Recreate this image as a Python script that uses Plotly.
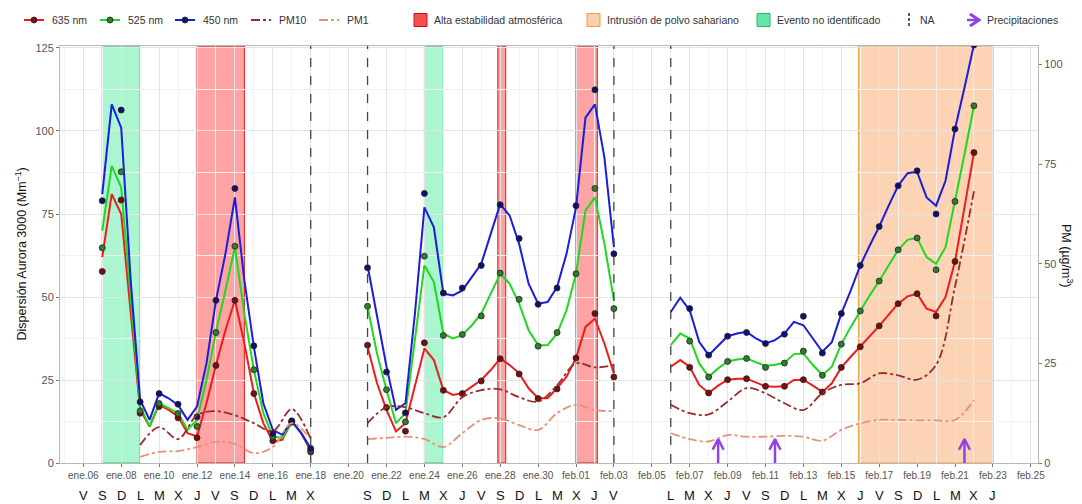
import pandas as pd
import plotly.graph_objects as go

# ---------------- data ----------------
base_day = pd.Timestamp("2023-01-06")

# time windows of the three measurement periods
line_windows = [("2023-01-07", "2023-01-18"), ("2023-01-21", "2023-02-03"), ("2023-02-06", "2023-02-22")]
dot_windows = [("2023-01-07", "2023-01-18"), ("2023-01-21", "2023-02-03"), ("2023-02-07", "2023-02-22")]
pm_windows = [("2023-01-09", "2023-01-18"), ("2023-01-21", "2023-02-03"), ("2023-02-06", "2023-02-22")]

# 12-hourly scattering (Mm-1)
red_line = [
    [62, 81, 75, 45, 16, 11, 17.5, 16, 14, 9, 8, 18, 29.5, 40, 49, 36, 21, 12, 6.5, 7, 12.5, 9, 3.5],
    [35, 24, 16, 9.5, 12, 23, 34.5, 31, 22, 20.5, 21, 23, 25, 28, 31.5, 29.5, 27, 22.5, 19.5, 19.5, 22.5, 26, 31.6, 41, 43.5, 36, 27],
    [29, 31, 29, 23.5, 21.1, 23.3, 25.1, 25.4, 25.4, 24.2, 23.1, 23, 23.1, 25, 25.1, 23.3, 21.4, 24, 28.8, 32, 35, 38.2, 41.3, 44.7, 48, 50.2, 51, 46.5, 45.5, 50, 60.7, 77, 93.5],
]
green_line = [
    [70, 89.5, 83, 50, 17, 11, 18, 16.5, 15, 10, 13, 25, 39.5, 52, 65, 45, 28, 15, 8, 7.5, 12.5, 9, 4],
    [47, 33, 22, 12, 15, 37, 59.5, 54.5, 39, 37.5, 38.5, 41.5, 45, 51, 57, 54, 48, 40, 35.5, 35.5, 39, 46, 57, 76, 80, 66, 49],
    [35.5, 39, 37.5, 30, 26, 28.5, 30.6, 31.2, 31.5, 30.3, 29.2, 29.6, 30.2, 32.8, 33, 29.5, 26.5, 29, 35.8, 41, 45.8, 50.5, 54.8, 59.5, 64.2, 67.2, 67.8, 62, 60, 65, 78.8, 93, 107.6],
]
blue_line = [
    [81, 108, 101, 55, 19, 13, 21, 19.5, 17.5, 13, 17, 30, 49, 63, 80, 55, 35, 18, 10, 8.5, 12.7, 9, 4.4],
    [59.5, 44, 29, 16, 18, 45, 77, 71, 51, 50.5, 52, 56, 60, 69, 78, 74.5, 66, 54, 48, 48.5, 53, 63, 77, 104, 108, 92, 65],
    [45.5, 49.8, 46, 36.5, 32.5, 35.5, 38.2, 39, 39.5, 37.5, 36, 37, 39, 42.5, 41.5, 37.5, 33.5, 36.4, 45, 52, 59.5, 65.5, 71.2, 77.5, 83.5, 87.3, 87.7, 80, 77.5, 85, 100.6, 113, 126],
]

# daily means (points)
red_daily = [
    [57.7, 79.2, 15, 17, 13.6, 7.6, 29.4, 49, 20.9, 6.7, 12.3, 3.3],
    [35.5, 16.7, 9.6, 36.2, 21.9, 20.9, 24.7, 31.4, 26.8, 19.4, 22.3, 31.6, 45, 25.9],
    [28.8, 21.1, 25.1, 25.4, 23.1, 23.1, 25.1, 21.4, 28.8, 35, 41.3, 48, 51, 44.3, 60.7, 93.5],
]
green_daily = [
    [64.8, 87.7, 15.7, 17.9, 14.9, 11, 39.3, 65.3, 28.1, 7.9, 12.5, 3.8],
    [47.2, 22.1, 12.4, 62.3, 38.4, 38.7, 44.3, 57.2, 49.3, 35.2, 39.3, 57, 82.7, 46.5],
    [36.7, 25.9, 30.6, 31.5, 28.8, 30.1, 33.7, 26.4, 35.8, 45.8, 54.8, 64.2, 67.8, 58.2, 78.8, 107.6],
]
blue_daily = [
    [79, 106.3, 18.4, 20.9, 17.7, 13.9, 49, 82.7, 35.3, 8.9, 12.7, 4.4],
    [58.8, 27.4, 15.1, 81.2, 51.2, 52.7, 59.5, 77.8, 67.6, 47.8, 52.7, 77.5, 112.4, 63],
    [46.5, 32.5, 38.2, 39.3, 36, 38.8, 44.2, 33.1, 45, 59.5, 71.2, 83.5, 88, 75, 100.6, 125.9],
]

# daily PM (ug/m3)
pm10_daily = [
    [4.5, 9, 6, 12, 13, 12, 10, 8, 13.5, 6],
    [10, 14, 14, 12.5, 11.5, 16.5, 18.3, 18.5, 16.5, 15.4, 19.5, 25, 24, 24.6],
    [14.6, 12.5, 12.2, 15.4, 18.8, 17.5, 15, 13.3, 17.5, 19.6, 20, 22.5, 22, 20.9, 24.6, 44.3, 68.2],
]
pm1_daily = [
    [1.5, 2.8, 3, 4, 5.3, 4.8, 2.5, 4, 10, 6],
    [6, 6.3, 6.6, 6, 4, 7.5, 10.8, 11.2, 9.5, 8.3, 12.5, 14.6, 13.3, 13],
    [7.5, 6, 5.4, 7, 6.6, 6.6, 6.8, 6.6, 5.6, 8.3, 10, 10.8, 10.8, 10.7, 10.7, 10.8, 15.8],
]

# events
alta_estabilidad = [("2023-01-12 00:00", "2023-01-14 12:00"),
                    ("2023-01-27 21:00", "2023-01-28 07:00"),
                    ("2023-02-01 00:00", "2023-02-02 03:00")]
polvo_sahariano = [("2023-02-15 22:00", "2023-02-23 00:00")]
evento_no_id = [("2023-01-07", "2023-01-09"), ("2023-01-24", "2023-01-25")]
na_dates = ["2023-01-18", "2023-01-21", "2023-02-03", "2023-02-06"]
precip_dates = ["2023-02-08 12:00", "2023-02-11 12:00", "2023-02-21 12:00"]

# axis / legend labels
x_tick_labels = ["ene.06", "ene.08", "ene.10", "ene.12", "ene.14", "ene.16", "ene.18", "ene.20",
                 "ene.22", "ene.24", "ene.26", "ene.28", "ene.30", "feb.01", "feb.03", "feb.05",
                 "feb.07", "feb.09", "feb.11", "feb.13", "feb.15", "feb.17", "feb.19", "feb.21",
                 "feb.23", "feb.25"]
weekday_groups = [
    ("2023-01-06", ["V", "S", "D", "L", "M", "X", "J", "V", "S", "D", "L", "M", "X"]),
    ("2023-01-21", ["S", "D", "L", "M", "X", "J", "V", "S", "D", "L", "M", "X", "J", "V"]),
    ("2023-02-06", ["L", "M", "X", "J", "V", "S", "D", "L", "M", "X", "J", "V", "S", "D", "L", "M", "X", "J"]),
]
legend_labels = ["635 nm", "525 nm", "450 nm", "PM10", "PM1", "Alta estabilidad atmosférica",
                 "Intrusión de polvo sahariano", "Evento no identificado", "NA", "Precipitaciones"]

PM_FACTOR = 1.2  # secondary axis: PM = scattering / 1.2

# ---------------- style ----------------
W, H = 1082, 504
ML, MR, MT, MB = 60, 44, 46, 41
PW, PH = W - ML - MR, H - MT - MB
FONT = "Liberation Sans, Arial, Helvetica, sans-serif"
C_RED, C_GREEN, C_BLUE = "#F01C1C", "#1FD81F", "#1C1CDC"
D_RED, D_GREEN, D_BLUE = "#7A0E0E", "#2F7D2F", "#101070"
C_PM10, C_PM1 = "#9A2B2B", "#E8907A"
C_ARROW = "#9440E8"


def join(windows, parts, freq):
    xs, ys = [], []
    for (a, b), vals in zip(windows, parts):
        t = pd.date_range(a, b, freq=freq)
        xs += list(t)
        ys += list(vals)
        xs.append(None)
        ys.append(None)
    return xs, ys


def px(x):  # pixel -> paper x
    return (x - ML) / PW


def py(y):  # pixel -> paper y
    return (H - MB - y) / PH


fig = go.Figure()

# ---------- PM lines (right axis) ----------
for parts, col in [(pm1_daily, C_PM1), (pm10_daily, C_PM10)]:
    xs, ys = join(pm_windows, parts, "D")
    fig.add_trace(go.Scatter(x=xs, y=ys, yaxis="y2", mode="lines",
                             line=dict(color=col, width=1.8, dash="dashdot", shape="spline", smoothing=1.0),
                             hoverinfo="skip"))

# ---------- scattering lines ----------
for parts, col in [(red_line, C_RED), (green_line, C_GREEN), (blue_line, C_BLUE)]:
    xs, ys = join(line_windows, parts, "12h")
    fig.add_trace(go.Scatter(x=xs, y=ys, mode="lines", line=dict(color=col, width=2)))

for parts, col in [(red_daily, D_RED), (green_daily, D_GREEN), (blue_daily, D_BLUE)]:
    xs, ys = join(dot_windows, parts, "D")
    fig.add_trace(go.Scatter(x=xs, y=ys, mode="markers",
                             marker=dict(color=col, size=6, line=dict(color="#222", width=0.8))))

# ---------- precipitation arrows ----------
tip, wing_y, wing_dt = 7.2, 4.0, pd.Timedelta(hours=7)
for d in precip_dates:
    t = pd.Timestamp(d)
    fig.add_trace(go.Scatter(
        x=[t, t, None, t - wing_dt, t, t + wing_dt],
        y=[0, tip, None, wing_y, tip, wing_y],
        mode="lines", hoverinfo="skip",
        line=dict(color=C_ARROW, width=2.5)))

# ---------- shapes ----------
shapes = []
for a, b in evento_no_id:
    shapes.append(dict(type="rect", xref="x", yref="paper", x0=a, x1=b, y0=0, y1=1, layer="below",
                       fillcolor="rgba(0,225,115,0.33)", line=dict(color="#2FC070", width=1)))
for a, b in alta_estabilidad:
    shapes.append(dict(type="rect", xref="x", yref="paper", x0=a, x1=b, y0=0, y1=1, layer="below",
                       fillcolor="rgba(250,0,0,0.36)", line=dict(color="#E01818", width=1)))
for a, b in polvo_sahariano:
    shapes.append(dict(type="rect", xref="x", yref="paper", x0=a, x1=b, y0=0, y1=1, layer="below",
                       fillcolor="rgba(246,140,60,0.38)", line=dict(color="#F2A02A", width=1.2)))
for d in na_dates:
    shapes.append(dict(type="line", xref="x", yref="paper", x0=d, x1=d, y0=0, y1=1, layer="above",
                       line=dict(color="#444", width=1.3, dash="dash")))

# ---------- manual legend (top row) ----------
ann = []
LY = 20  # legend row centre (px)
text_x = [50, 126, 201, 277, 345, 432, 605, 775, 918, 985]


def leg_text(i):
    ann.append(dict(x=px(text_x[i]), y=py(LY), xref="paper", yref="paper", text=legend_labels[i],
                    showarrow=False, xanchor="left", yanchor="middle",
                    font=dict(family=FONT, size=10.5, color="#333")))


def leg_line(i, color, dash="solid", width=2, dot=None):
    x1 = text_x[i] - 6
    x0 = x1 - 20
    shapes.append(dict(type="line", xref="paper", yref="paper", x0=px(x0), x1=px(x1), y0=py(LY), y1=py(LY),
                       line=dict(color=color, width=width, dash=dash)))
    if dot:
        cx, r = (x0 + x1) / 2, 3
        shapes.append(dict(type="circle", xref="paper", yref="paper", x0=px(cx - r), x1=px(cx + r),
                           y0=py(LY + r), y1=py(LY - r), fillcolor=dot, line=dict(color="#222", width=0.8)))
    leg_text(i)


def leg_square(i, fill, border):
    x1 = text_x[i] - 5
    x0 = x1 - 13
    shapes.append(dict(type="rect", xref="paper", yref="paper", x0=px(x0), x1=px(x1),
                       y0=py(LY + 6.5), y1=py(LY - 6.5), fillcolor=fill, line=dict(color=border, width=1)))
    leg_text(i)


leg_line(0, C_RED, dot=D_RED)
leg_line(1, C_GREEN, dot=D_GREEN)
leg_line(2, C_BLUE, dot=D_BLUE)
leg_line(3, C_PM10, dash="dashdot")
leg_line(4, C_PM1, dash="dashdot")
leg_square(5, "#F55050", "#D01010")
leg_square(6, "#FBD0B0", "#F0A030")
leg_square(7, "#62E8A6", "#27B86E")
# NA: dashed vertical key with small corner ticks
nx = text_x[8] - 9
shapes.append(dict(type="line", xref="paper", yref="paper", x0=px(nx), x1=px(nx), y0=py(LY - 7), y1=py(LY + 7),
                   line=dict(color="#222", width=1.5, dash="3px,2px")))
leg_text(8)
# Precipitaciones: purple chevron arrow
ax1 = text_x[9] - 6
shapes.append(dict(type="path", xref="paper", yref="paper",
                   path=f"M {px(ax1 - 9)},{py(LY - 6)} L {px(ax1)},{py(LY)} L {px(ax1 - 9)},{py(LY + 6)}",
                   line=dict(color=C_ARROW, width=3)))
shapes.append(dict(type="line", xref="paper", yref="paper", x0=px(ax1 - 12), x1=px(ax1 - 1), y0=py(LY), y1=py(LY),
                   line=dict(color=C_ARROW, width=2.5)))
leg_text(9)

# ---------- weekday letters and axis titles ----------
letter_y = py(495)
for start, letters in weekday_groups:
    for i, l in enumerate(letters):
        ann.append(dict(x=pd.Timestamp(start) + pd.Timedelta(days=i), y=letter_y, xref="x", yref="paper",
                        text=l, showarrow=False, font=dict(family=FONT, size=13, color="#111"),
                        xanchor="center", yanchor="middle"))
ann.append(dict(x=px(20), y=0.5, xref="paper", yref="paper", text="Dispersión Aurora 3000 (Mm<sup>−1</sup>)",
                textangle=-90, showarrow=False, font=dict(family=FONT, size=12.5, color="#111"),
                xanchor="center", yanchor="middle"))
ann.append(dict(x=px(1067), y=py(255), xref="paper", yref="paper", text="PM (µg/m<sup>3</sup>)",
                textangle=90, showarrow=False, font=dict(family=FONT, size=12.5, color="#111"),
                xanchor="center", yanchor="middle"))

tick_dates = list(pd.date_range("2023-01-06", "2023-02-25", freq="2D"))
minor_dates = list(pd.date_range("2023-01-05", "2023-02-26", freq="2D"))
x0 = base_day + pd.Timedelta(days=-1.23)
x1 = base_day + pd.Timedelta(days=50.38)

fig.update_layout(
    width=W, height=H,
    margin=dict(l=ML, r=MR, t=MT, b=MB, autoexpand=False),
    plot_bgcolor="white", paper_bgcolor="white",
    font=dict(family=FONT, size=11, color="#333"),
    shapes=shapes, annotations=ann,
    showlegend=False,
    xaxis=dict(type="date", range=[x0, x1], tickmode="array", tickvals=tick_dates, ticktext=x_tick_labels,
               ticks="outside", ticklen=3, tickcolor="#777", tickfont=dict(size=10, color="#555"),
               showgrid=True, gridcolor="#E4E4E4", gridwidth=1,
               minor=dict(tickmode="array", tickvals=minor_dates, showgrid=True, gridcolor="#F2F2F2", ticks=""),
               showline=True, linecolor="#B8B8B8", linewidth=1, mirror=True, zeroline=False),
    yaxis=dict(range=[0, 125.6], tickvals=[0, 25, 50, 75, 100, 125], ticks="outside", ticklen=3,
               tickcolor="#777", tickfont=dict(size=11, color="#555"),
               showgrid=True, gridcolor="#E4E4E4", gridwidth=1,
               minor=dict(dtick=12.5, tick0=0, showgrid=True, gridcolor="#F2F2F2", ticks=""),
               showline=True, linecolor="#B8B8B8", linewidth=1, mirror=True, zeroline=False),
    yaxis2=dict(range=[0, 125.6 / PM_FACTOR], tickvals=[0, 25, 50, 75, 100], overlaying="y", side="right",
                ticks="outside", ticklen=3, tickcolor="#777", tickfont=dict(size=11, color="#555"),
                showgrid=False, zeroline=False, showline=False),
)

# the page's default body margin would shift the figure by 8 px; remove it
fig.write_html("out.html", config={"displayModeBar": False},
               post_script="document.body.style.margin='0px';")
